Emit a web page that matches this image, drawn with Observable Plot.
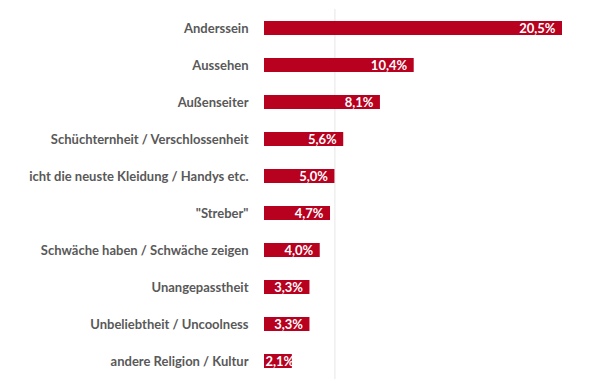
<!DOCTYPE html>
<html>
<head>
<meta charset="utf-8">
<script src="https://cdn.jsdelivr.net/npm/d3@7"></script>
<script src="https://cdn.jsdelivr.net/npm/@observablehq/plot@0.6"></script>
<style>
  html, body { margin: 0; padding: 0; background: #fff; overflow: hidden; }
  #chart { width: 601px; height: 384px; }
</style>
</head>
<body>
<div id="chart"></div>
<script>
const categories = [
  "Anderssein",
  "Aussehen",
  "Außenseiter",
  "Schüchternheit / Verschlossenheit",
  "icht die neuste Kleidung / Handys etc.",
  "\"Streber\"",
  "Schwäche haben / Schwäche zeigen",
  "Unangepasstheit",
  "Unbeliebtheit / Uncoolness",
  "andere Religion / Kultur"
];
const values = [20.5, 10.4, 8.1, 5.6, 5.0, 4.7, 4.0, 3.3, 3.3, 2.1];
const gridTicks = [5];

const data = categories.map((c, i) => ({ category: c, value: values[i] }));
const fmt = v => v.toFixed(1).replace(".", ",") + "%";

const chart = Plot.plot({
  width: 601,
  height: 384,
  marginLeft: 261,
  marginRight: 39,
  marginTop: 9,
  marginBottom: 5,
  style: { fontFamily: "Lato, sans-serif", background: "#fff" },
  x: { domain: [0, 20.5], axis: null },
  y: { domain: categories, axis: null, paddingInner: 0.63, paddingOuter: 0.2 },
  marks: [
    Plot.ruleX(gridTicks, { stroke: "#e6e6e6", strokeWidth: 1 }),
    Plot.barX(data, { x: "value", y: "category", fill: "#b8001f", insetLeft: 3 }),
    Plot.text(data, {
      x: 0, y: "category", text: "category",
      textAnchor: "end", dx: -13, fill: "#595959",
      fontWeight: "bold", fontSize: 13
    }),
    Plot.text(data.filter(d => d.value >= 3), {
      x: "value", y: "category", text: d => fmt(d.value),
      textAnchor: "end", dx: -7, fill: "#fff",
      fontWeight: "bold", fontSize: 13
    }),
    Plot.text(data.filter(d => d.value < 3), {
      x: 0, y: "category", text: d => fmt(d.value),
      textAnchor: "start", dx: 4, fill: "#fff",
      fontWeight: "bold", fontSize: 13
    })
  ]
});
document.getElementById("chart").appendChild(chart);
</script>
</body>
</html>
